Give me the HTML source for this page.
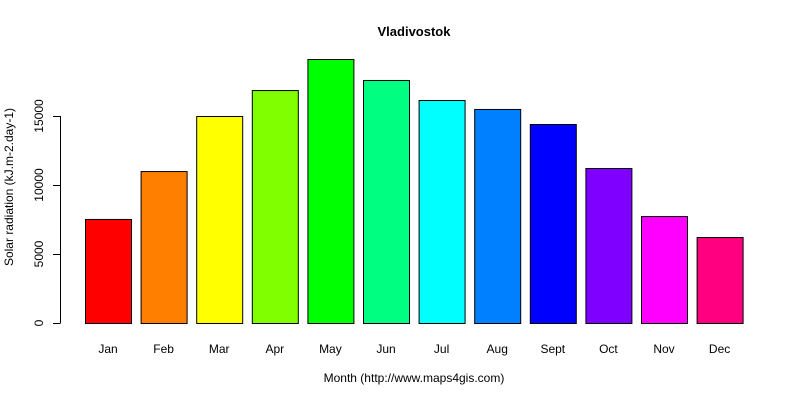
<!DOCTYPE html>
<html><head><meta charset="utf-8"><style>
body{margin:0;background:#fff;}
svg{display:block;font-family:"Liberation Sans",Arial,sans-serif;}
</style></head><body>
<svg id="chart" width="800" height="400">
<text x="414" y="36" text-anchor="middle" font-weight="bold" font-size="13">Vladivostok</text>
<text x="414" y="382" text-anchor="middle" font-size="12">Month (http://www.maps4gis.com)</text>
<text transform="translate(13,187) rotate(-90)" text-anchor="middle" font-size="12">Solar radiation (kJ.m-2.day-1)</text>
<g id="bars"></g><g id="yaxis"></g><g id="xlabels"></g>
</svg>
<script>
const categories=["Jan","Feb","Mar","Apr","May","Jun","Jul","Aug","Sept","Oct","Nov","Dec"];
const values=[7540,11010,15000,16880,19130,17610,16160,15510,14420,11230,7750,6230];
const colors=["#FF0000","#FF8000","#FFFF00","#80FF00","#00FF00","#00FF80","#00FFFF","#0080FF","#0000FF","#8000FF","#FF00FF","#FF0080"];
const yTicks=[0,5000,10000,15000];
const NS="http://www.w3.org/2000/svg";
const y=v=>323-v*0.0138;
const x=i=>85+i*55.6;
const bars=document.getElementById('bars'),ya=document.getElementById('yaxis'),xl=document.getElementById('xlabels');
values.forEach((v,i)=>{
 const r=document.createElementNS(NS,'rect');
 r.setAttribute('x',x(i)+0.5);r.setAttribute('y',y(v)+0.5);
 r.setAttribute('width',46);r.setAttribute('height',y(0)-y(v));
 r.setAttribute('fill',colors[i]);r.setAttribute('stroke','#000');
 
 
 bars.appendChild(r);
 const t=document.createElementNS(NS,'text');
 t.setAttribute('x',x(i)+23);t.setAttribute('y',353);
 t.setAttribute('text-anchor','middle');t.setAttribute('font-size','12');
 t.textContent=categories[i];
 
 
 xl.appendChild(t);
});
const ax=document.createElementNS(NS,'line');
ax.setAttribute('x1',60.5);ax.setAttribute('x2',60.5);
ax.setAttribute('y1',y(0));ax.setAttribute('y2',y(yTicks[yTicks.length-1]));
ax.setAttribute('stroke','#000');


ya.appendChild(ax);
yTicks.forEach(v=>{
 const l=document.createElementNS(NS,'line');
 l.setAttribute('x1',53);l.setAttribute('x2',60.5);
 l.setAttribute('y1',y(v)+0.5);l.setAttribute('y2',y(v)+0.5);
 l.setAttribute('stroke','#000');
 
 
 ya.appendChild(l);
 const t=document.createElementNS(NS,'text');
 t.setAttribute('transform','translate(43,'+y(v)+') rotate(-90)');
 t.setAttribute('text-anchor','middle');t.setAttribute('font-size','12');
 t.textContent=v;
 
 
 ya.appendChild(t);
});
</script>
</body></html>
